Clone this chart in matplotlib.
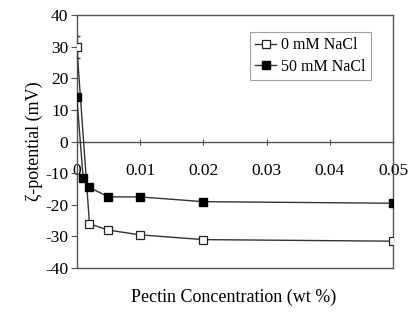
import matplotlib
matplotlib.use("Agg")
import matplotlib.pyplot as plt

conc_0mM = [0, 0.002, 0.005, 0.01, 0.02, 0.05]
zeta_0mM = [30, -26, -28, -29.5, -31, -31.5]
err_0mM = [3.5, 0, 0, 0, 0, 0]
conc_50mM = [0, 0.001, 0.002, 0.005, 0.01, 0.02, 0.05]
zeta_50mM = [14, -11.5, -14.5, -17.5, -17.5, -19, -19.5]
xticks = [0, 0.01, 0.02, 0.03, 0.04, 0.05]
xticklabels = ["0", "0.01", "0.02", "0.03", "0.04", "0.05"]
yticks = [-40, -30, -20, -10, 0, 10, 20, 30, 40]

plt.rcParams['font.family'] = ['Liberation Serif', 'DejaVu Serif']
plt.rcParams['axes.unicode_minus'] = False

fig = plt.figure(figsize=(4.13, 3.15), dpi=100)
ax = fig.add_axes([0.186, 0.149, 0.766, 0.803])

lc = '#333333'
ax.errorbar(conc_0mM, zeta_0mM, yerr=err_0mM, fmt='none', ecolor=lc,
            capsize=2.5, elinewidth=0.9, zorder=2)
h0, = ax.plot(conc_0mM, zeta_0mM, color=lc, lw=1.0, marker='s',
              markersize=5.5, markerfacecolor='white', markeredgecolor='#222222',
              markeredgewidth=0.9, label='0 mM NaCl', zorder=3)
h1, = ax.plot(conc_50mM, zeta_50mM, color=lc, lw=1.0, marker='s', markersize=5.5,
              markerfacecolor='black', markeredgecolor='black', label='50 mM NaCl', zorder=4)

ax.set_xlim(0, 0.05)
ax.set_ylim(-40, 40)
ax.set_yticks(yticks)
ax.set_xticks(xticks)
ax.set_xticklabels(xticklabels)

for s in ['top', 'right', 'left']:
    ax.spines[s].set_color('#555555')
    ax.spines[s].set_linewidth(1.0)
ax.spines['bottom'].set_position(('data', 0))
ax.spines['bottom'].set_color('#555555')
ax.spines['bottom'].set_linewidth(1.0)
ax.plot([0, 1], [0, 0], transform=ax.transAxes, color='#555555', lw=1.0, clip_on=False)

ax.tick_params(axis='y', direction='out', length=4, labelsize=12.5, color='#555555', pad=2)
ax.tick_params(axis='x', direction='inout', length=5, labelsize=12.5, color='#555555', pad=13)

ax.set_ylabel('ζ-potential (mV)', fontsize=13, labelpad=2)
fig.text(0.565, 0.057, 'Pectin Concentration (wt %)', ha='center', va='center', fontsize=13)

leg = ax.legend(handles=[h0, h1], loc='upper right', bbox_to_anchor=(0.93, 0.935), fontsize=11.5,
                frameon=True, fancybox=False, edgecolor='#888888', handlelength=1.3,
                handletextpad=0.3, borderpad=0.35, labelspacing=0.35, borderaxespad=0)
leg.get_frame().set_linewidth(0.8)

fig.savefig('out.png', dpi=100)
